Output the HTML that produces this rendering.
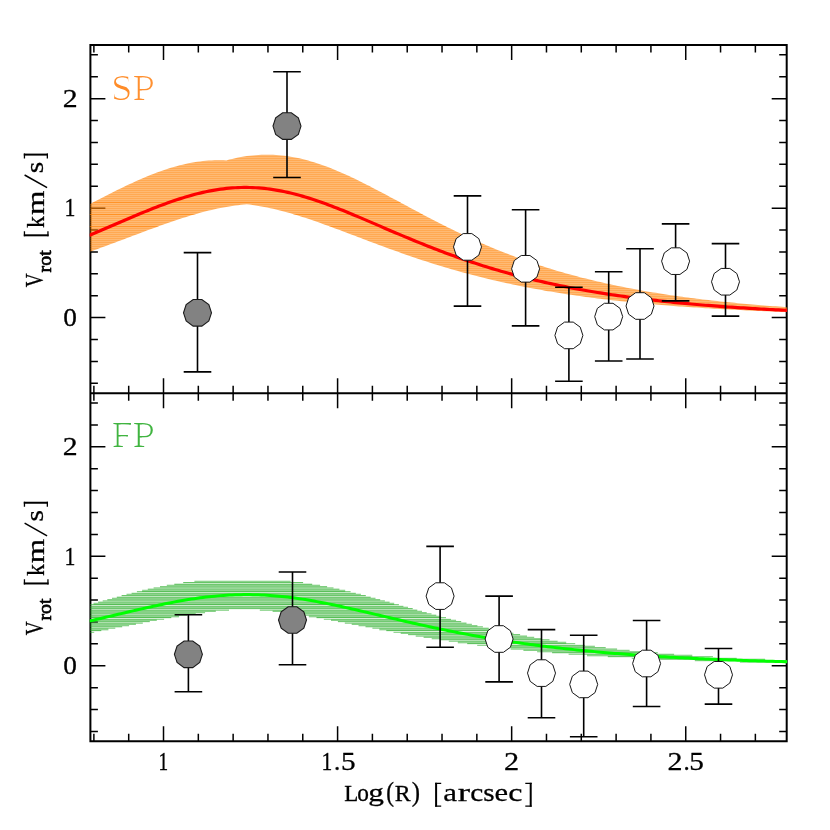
<!DOCTYPE html><html lang="en"><head><meta charset="utf-8"><title>Vrot</title><style>html,body{margin:0;padding:0;background:#fff}svg{display:block;will-change:transform}text{font-family:"Liberation Serif",serif}</style></head><body>
<svg width="830" height="830" viewBox="0 0 830 830">
<rect width="830" height="830" fill="#fff"/>
<defs>
<pattern id="ho" width="830" height="2" patternUnits="userSpaceOnUse" x="0" y="201.9"><rect y="0" width="830" height="1.02" fill="#ff8000" fill-opacity="0.69"/><rect y="1" width="830" height="1.02" fill="#ff8000" fill-opacity="0.52"/></pattern>
<pattern id="hg" width="830" height="4.35" patternUnits="userSpaceOnUse" x="0" y="591.9"><rect y="0.00" width="830" height="1.02" fill="#32b032" fill-opacity="0.18"/><rect y="1.00" width="830" height="1.20" fill="#32b032" fill-opacity="0.83"/><rect y="2.18" width="830" height="1.02" fill="#32b032" fill-opacity="0.52"/><rect y="3.18" width="830" height="1.19" fill="#32b032" fill-opacity="0.83"/></pattern>
<clipPath id="cband"><path d="M89.01,204.51 L91.93,202.99 L94.85,201.47 L97.77,199.96 L100.70,198.45 L103.62,196.95 L106.54,195.46 L109.46,193.98 L112.38,192.50 L115.31,191.04 L118.23,189.59 L121.15,188.16 L124.07,186.75 L127.00,185.35 L129.92,183.98 L132.84,182.63 L135.76,181.30 L138.68,179.99 L141.61,178.72 L144.53,177.47 L147.45,176.25 L150.37,175.07 L153.29,173.91 L156.22,172.80 L159.14,171.72 L162.06,170.68 L164.98,169.69 L167.90,168.73 L170.83,167.82 L173.75,166.95 L176.67,166.14 L179.59,165.36 L182.52,164.64 L185.44,163.97 L188.36,163.35 L191.28,162.79 L194.20,162.28 L197.13,161.82 L200.05,161.42 L202.97,161.08 L205.89,160.79 L208.81,160.56 L211.74,160.39 L214.66,160.28 L217.58,160.22 L220.50,160.23 L223.43,160.29 L226.35,160.38 L229.27,159.61 L232.19,158.89 L235.11,158.22 L238.04,157.61 L240.96,157.06 L243.88,156.56 L246.80,156.11 L249.72,155.73 L252.65,155.40 L255.57,155.14 L258.49,154.93 L261.41,154.79 L264.34,154.70 L267.26,154.68 L270.18,154.72 L273.10,154.81 L276.02,154.97 L278.95,155.19 L281.87,155.47 L284.79,155.81 L287.71,156.20 L290.63,156.66 L293.56,157.17 L296.48,157.74 L299.40,158.36 L302.32,159.04 L305.24,159.77 L308.17,160.55 L311.09,161.38 L314.01,162.26 L316.93,163.19 L319.86,164.17 L322.78,165.19 L325.70,166.25 L328.62,167.35 L331.54,168.50 L334.47,169.67 L337.39,170.89 L340.31,172.14 L343.23,173.42 L346.15,174.74 L349.08,176.08 L352.00,177.44 L354.92,178.84 L357.84,180.25 L360.77,181.69 L363.69,183.15 L366.61,184.63 L369.53,186.12 L372.45,187.63 L375.38,189.15 L378.30,190.68 L381.22,192.23 L384.14,193.78 L387.06,195.34 L389.99,196.90 L392.91,198.47 L395.83,200.04 L398.75,201.61 L401.68,203.19 L404.60,204.76 L407.52,206.33 L410.44,207.90 L413.36,209.47 L416.29,211.03 L419.21,212.58 L422.13,214.13 L425.05,215.67 L427.97,217.21 L430.90,218.73 L433.82,220.24 L436.74,221.75 L439.66,223.24 L442.59,224.72 L445.51,226.19 L448.43,227.65 L451.35,229.09 L454.27,230.52 L457.20,231.93 L460.12,233.33 L463.04,234.72 L465.96,236.09 L468.88,237.45 L471.81,238.79 L474.73,240.12 L477.65,241.42 L480.57,242.72 L483.49,244.00 L486.42,245.26 L489.34,246.50 L492.26,247.73 L495.18,248.94 L498.11,250.14 L501.03,251.31 L503.95,252.48 L506.87,253.62 L509.79,254.75 L512.72,255.86 L515.64,256.96 L518.56,258.04 L521.48,259.10 L524.40,260.15 L527.33,261.18 L530.25,262.20 L533.17,263.20 L536.09,264.18 L539.02,265.15 L541.94,266.10 L544.86,267.04 L547.78,267.96 L550.70,268.86 L553.63,269.75 L556.55,270.63 L559.47,271.49 L562.39,272.34 L565.31,273.17 L568.24,273.99 L571.16,274.80 L574.08,275.59 L577.00,276.37 L579.93,277.13 L582.85,277.88 L585.77,278.62 L588.69,279.35 L591.61,280.06 L594.54,280.76 L597.46,281.45 L600.38,282.12 L603.30,282.79 L606.22,283.44 L609.15,284.08 L612.07,284.71 L614.99,285.32 L617.91,285.93 L620.83,286.52 L623.76,287.11 L626.68,287.68 L629.60,288.25 L632.52,288.80 L635.45,289.34 L638.37,289.87 L641.29,290.40 L644.21,290.91 L647.13,291.42 L650.06,291.91 L652.98,292.40 L655.90,292.87 L658.82,293.34 L661.74,293.80 L664.67,294.25 L667.59,294.69 L670.51,295.13 L673.43,295.56 L676.36,295.97 L679.28,296.38 L682.20,296.79 L685.12,297.18 L688.04,297.57 L690.97,297.95 L693.89,298.32 L696.81,298.69 L699.73,299.05 L702.65,299.40 L705.58,299.75 L708.50,300.09 L711.42,300.42 L714.34,300.75 L717.27,301.07 L720.19,301.39 L723.11,301.70 L726.03,302.00 L728.95,302.30 L731.88,302.59 L734.80,302.87 L737.72,303.15 L740.64,303.43 L743.56,303.70 L746.49,303.97 L749.41,304.23 L752.33,304.48 L755.25,304.73 L758.18,304.98 L761.10,305.22 L764.02,305.46 L766.94,305.69 L769.86,305.91 L772.79,306.14 L775.71,306.36 L778.63,306.57 L781.55,306.78 L784.47,306.99 L787.40,307.19 L787.40,312.11 L784.47,312.00 L781.55,311.89 L778.63,311.78 L775.71,311.67 L772.79,311.55 L769.86,311.43 L766.94,311.31 L764.02,311.19 L761.10,311.07 L758.18,310.94 L755.25,310.81 L752.33,310.68 L749.41,310.54 L746.49,310.40 L743.56,310.26 L740.64,310.12 L737.72,309.97 L734.80,309.83 L731.88,309.67 L728.95,309.52 L726.03,309.36 L723.11,309.20 L720.19,309.04 L717.27,308.87 L714.34,308.70 L711.42,308.53 L708.50,308.35 L705.58,308.17 L702.65,307.99 L699.73,307.80 L696.81,307.61 L693.89,307.42 L690.97,307.22 L688.04,307.02 L685.12,306.81 L682.20,306.60 L679.28,306.39 L676.36,306.17 L673.43,305.95 L670.51,305.72 L667.59,305.49 L664.67,305.26 L661.74,305.02 L658.82,304.77 L655.90,304.52 L652.98,304.27 L650.06,304.01 L647.13,303.75 L644.21,303.48 L641.29,303.20 L638.37,302.93 L635.45,302.64 L632.52,302.35 L629.60,302.06 L626.68,301.76 L623.76,301.45 L620.83,301.14 L617.91,300.82 L614.99,300.50 L612.07,300.17 L609.15,299.83 L606.22,299.49 L603.30,299.14 L600.38,298.78 L597.46,298.42 L594.54,298.05 L591.61,297.68 L588.69,297.29 L585.77,296.90 L582.85,296.51 L579.93,296.10 L577.00,295.69 L574.08,295.27 L571.16,294.84 L568.24,294.41 L565.31,293.96 L562.39,293.51 L559.47,293.05 L556.55,292.59 L553.63,292.11 L550.70,291.62 L547.78,291.13 L544.86,290.63 L541.94,290.12 L539.02,289.60 L536.09,289.07 L533.17,288.53 L530.25,287.98 L527.33,287.42 L524.40,286.85 L521.48,286.28 L518.56,285.69 L515.64,285.09 L512.72,284.48 L509.79,283.87 L506.87,283.24 L503.95,282.60 L501.03,281.95 L498.11,281.29 L495.18,280.62 L492.26,279.93 L489.34,279.24 L486.42,278.54 L483.49,277.82 L480.57,277.09 L477.65,276.36 L474.73,275.61 L471.81,274.85 L468.88,274.07 L465.96,273.29 L463.04,272.49 L460.12,271.69 L457.20,270.87 L454.27,270.04 L451.35,269.19 L448.43,268.34 L445.51,267.47 L442.59,266.60 L439.66,265.71 L436.74,264.81 L433.82,263.89 L430.90,262.97 L427.97,262.04 L425.05,261.09 L422.13,260.14 L419.21,259.17 L416.29,258.19 L413.36,257.20 L410.44,256.21 L407.52,255.20 L404.60,254.18 L401.68,253.16 L398.75,252.12 L395.83,251.08 L392.91,250.03 L389.99,248.97 L387.06,247.90 L384.14,246.83 L381.22,245.75 L378.30,244.66 L375.38,243.57 L372.45,242.48 L369.53,241.38 L366.61,240.27 L363.69,239.17 L360.77,238.06 L357.84,236.95 L354.92,235.84 L352.00,234.73 L349.08,233.63 L346.15,232.52 L343.23,231.42 L340.31,230.32 L337.39,229.23 L334.47,228.14 L331.54,227.07 L328.62,225.99 L325.70,224.93 L322.78,223.88 L319.86,222.84 L316.93,221.82 L314.01,220.80 L311.09,219.81 L308.17,218.83 L305.24,217.86 L302.32,216.92 L299.40,216.00 L296.48,215.10 L293.56,214.22 L290.63,213.36 L287.71,212.53 L284.79,211.73 L281.87,210.95 L278.95,210.21 L276.02,209.49 L273.10,208.81 L270.18,208.16 L267.26,207.54 L264.34,206.95 L261.41,206.40 L258.49,205.89 L255.57,205.42 L252.65,204.98 L249.72,204.58 L246.80,204.30 L243.88,204.56 L240.96,204.85 L238.04,205.18 L235.11,205.56 L232.19,205.97 L229.27,206.42 L226.35,206.91 L223.43,207.44 L220.50,208.00 L217.58,208.60 L214.66,209.23 L211.74,209.89 L208.81,210.58 L205.89,211.31 L202.97,212.06 L200.05,212.84 L197.13,213.65 L194.20,214.49 L191.28,215.35 L188.36,216.23 L185.44,217.14 L182.52,218.07 L179.59,219.01 L176.67,219.98 L173.75,220.96 L170.83,221.95 L167.90,222.97 L164.98,223.99 L162.06,225.03 L159.14,226.08 L156.22,227.13 L153.29,228.20 L150.37,229.28 L147.45,230.36 L144.53,231.45 L141.61,232.54 L138.68,233.63 L135.76,234.73 L132.84,235.83 L129.92,236.93 L127.00,238.03 L124.07,239.13 L121.15,240.23 L118.23,241.33 L115.31,242.42 L112.38,243.51 L109.46,244.60 L106.54,245.68 L103.62,246.75 L100.70,247.82 L97.77,248.89 L94.85,249.94 L91.93,250.99 L89.01,252.03 Z"/></clipPath>
<clipPath id="ct"><rect x="89.7" y="45" width="697.6" height="348.15"/></clipPath>
<clipPath id="cb"><rect x="89.7" y="393.15" width="697.6" height="348.15"/></clipPath>
<clipPath id="ct2"><rect x="90.4" y="45" width="696.9" height="348.15"/></clipPath>
<clipPath id="cb2"><rect x="90.4" y="393.15" width="696.9" height="348.15"/></clipPath>
</defs>
<path d="M93.88,45.00v7.50 M93.88,385.65v15.00 M93.88,741.30v-7.50 M128.70,45.00v7.50 M128.70,385.65v15.00 M128.70,741.30v-7.50 M163.51,45.00v15.00 M163.51,378.15v30.00 M163.51,741.30v-15.00 M198.33,45.00v7.50 M198.33,385.65v15.00 M198.33,741.30v-7.50 M233.14,45.00v7.50 M233.14,385.65v15.00 M233.14,741.30v-7.50 M267.96,45.00v7.50 M267.96,385.65v15.00 M267.96,741.30v-7.50 M302.77,45.00v7.50 M302.77,385.65v15.00 M302.77,741.30v-7.50 M337.59,45.00v15.00 M337.59,378.15v30.00 M337.59,741.30v-15.00 M372.40,45.00v7.50 M372.40,385.65v15.00 M372.40,741.30v-7.50 M407.22,45.00v7.50 M407.22,385.65v15.00 M407.22,741.30v-7.50 M442.03,45.00v7.50 M442.03,385.65v15.00 M442.03,741.30v-7.50 M476.85,45.00v7.50 M476.85,385.65v15.00 M476.85,741.30v-7.50 M511.66,45.00v15.00 M511.66,378.15v30.00 M511.66,741.30v-15.00 M546.48,45.00v7.50 M546.48,385.65v15.00 M546.48,741.30v-7.50 M581.29,45.00v7.50 M581.29,385.65v15.00 M581.29,741.30v-7.50 M616.11,45.00v7.50 M616.11,385.65v15.00 M616.11,741.30v-7.50 M650.92,45.00v7.50 M650.92,385.65v15.00 M650.92,741.30v-7.50 M685.74,45.00v15.00 M685.74,378.15v30.00 M685.74,741.30v-15.00 M720.55,45.00v7.50 M720.55,385.65v15.00 M720.55,741.30v-7.50 M755.37,45.00v7.50 M755.37,385.65v15.00 M755.37,741.30v-7.50 M90.40,383.30h7.50 M786.70,383.30h-7.50 M90.40,361.40h7.50 M786.70,361.40h-7.50 M90.40,339.50h7.50 M786.70,339.50h-7.50 M90.40,317.61h15.00 M786.70,317.61h-15.00 M90.40,295.71h7.50 M786.70,295.71h-7.50 M90.40,273.82h7.50 M786.70,273.82h-7.50 M90.40,251.92h7.50 M786.70,251.92h-7.50 M90.40,230.02h7.50 M786.70,230.02h-7.50 M90.40,208.13h15.00 M786.70,208.13h-15.00 M90.40,186.23h7.50 M786.70,186.23h-7.50 M90.40,164.33h7.50 M786.70,164.33h-7.50 M90.40,142.44h7.50 M786.70,142.44h-7.50 M90.40,120.54h7.50 M786.70,120.54h-7.50 M90.40,98.65h15.00 M786.70,98.65h-15.00 M90.40,76.75h7.50 M786.70,76.75h-7.50 M90.40,54.85h7.50 M786.70,54.85h-7.50 M90.40,731.45h7.50 M786.70,731.45h-7.50 M90.40,709.55h7.50 M786.70,709.55h-7.50 M90.40,687.65h7.50 M786.70,687.65h-7.50 M90.40,665.76h15.00 M786.70,665.76h-15.00 M90.40,643.86h7.50 M786.70,643.86h-7.50 M90.40,621.97h7.50 M786.70,621.97h-7.50 M90.40,600.07h7.50 M786.70,600.07h-7.50 M90.40,578.17h7.50 M786.70,578.17h-7.50 M90.40,556.28h15.00 M786.70,556.28h-15.00 M90.40,534.38h7.50 M786.70,534.38h-7.50 M90.40,512.48h7.50 M786.70,512.48h-7.50 M90.40,490.59h7.50 M786.70,490.59h-7.50 M90.40,468.69h7.50 M786.70,468.69h-7.50 M90.40,446.80h15.00 M786.70,446.80h-15.00 M90.40,424.90h7.50 M786.70,424.90h-7.50 M90.40,403.00h7.50 M786.70,403.00h-7.50" stroke="#000" stroke-width="1.5" fill="none"/>
<path d="M90.40,45.00H786.70V741.30H90.40Z M90.40,393.15H786.70" stroke="#000" stroke-width="2" fill="none"/>
<g clip-path="url(#ct)"><path d="M89.01,204.51 L91.93,202.99 L94.85,201.47 L97.77,199.96 L100.70,198.45 L103.62,196.95 L106.54,195.46 L109.46,193.98 L112.38,192.50 L115.31,191.04 L118.23,189.59 L121.15,188.16 L124.07,186.75 L127.00,185.35 L129.92,183.98 L132.84,182.63 L135.76,181.30 L138.68,179.99 L141.61,178.72 L144.53,177.47 L147.45,176.25 L150.37,175.07 L153.29,173.91 L156.22,172.80 L159.14,171.72 L162.06,170.68 L164.98,169.69 L167.90,168.73 L170.83,167.82 L173.75,166.95 L176.67,166.14 L179.59,165.36 L182.52,164.64 L185.44,163.97 L188.36,163.35 L191.28,162.79 L194.20,162.28 L197.13,161.82 L200.05,161.42 L202.97,161.08 L205.89,160.79 L208.81,160.56 L211.74,160.39 L214.66,160.28 L217.58,160.22 L220.50,160.23 L223.43,160.29 L226.35,160.38 L229.27,159.61 L232.19,158.89 L235.11,158.22 L238.04,157.61 L240.96,157.06 L243.88,156.56 L246.80,156.11 L249.72,155.73 L252.65,155.40 L255.57,155.14 L258.49,154.93 L261.41,154.79 L264.34,154.70 L267.26,154.68 L270.18,154.72 L273.10,154.81 L276.02,154.97 L278.95,155.19 L281.87,155.47 L284.79,155.81 L287.71,156.20 L290.63,156.66 L293.56,157.17 L296.48,157.74 L299.40,158.36 L302.32,159.04 L305.24,159.77 L308.17,160.55 L311.09,161.38 L314.01,162.26 L316.93,163.19 L319.86,164.17 L322.78,165.19 L325.70,166.25 L328.62,167.35 L331.54,168.50 L334.47,169.67 L337.39,170.89 L340.31,172.14 L343.23,173.42 L346.15,174.74 L349.08,176.08 L352.00,177.44 L354.92,178.84 L357.84,180.25 L360.77,181.69 L363.69,183.15 L366.61,184.63 L369.53,186.12 L372.45,187.63 L375.38,189.15 L378.30,190.68 L381.22,192.23 L384.14,193.78 L387.06,195.34 L389.99,196.90 L392.91,198.47 L395.83,200.04 L398.75,201.61 L401.68,203.19 L404.60,204.76 L407.52,206.33 L410.44,207.90 L413.36,209.47 L416.29,211.03 L419.21,212.58 L422.13,214.13 L425.05,215.67 L427.97,217.21 L430.90,218.73 L433.82,220.24 L436.74,221.75 L439.66,223.24 L442.59,224.72 L445.51,226.19 L448.43,227.65 L451.35,229.09 L454.27,230.52 L457.20,231.93 L460.12,233.33 L463.04,234.72 L465.96,236.09 L468.88,237.45 L471.81,238.79 L474.73,240.12 L477.65,241.42 L480.57,242.72 L483.49,244.00 L486.42,245.26 L489.34,246.50 L492.26,247.73 L495.18,248.94 L498.11,250.14 L501.03,251.31 L503.95,252.48 L506.87,253.62 L509.79,254.75 L512.72,255.86 L515.64,256.96 L518.56,258.04 L521.48,259.10 L524.40,260.15 L527.33,261.18 L530.25,262.20 L533.17,263.20 L536.09,264.18 L539.02,265.15 L541.94,266.10 L544.86,267.04 L547.78,267.96 L550.70,268.86 L553.63,269.75 L556.55,270.63 L559.47,271.49 L562.39,272.34 L565.31,273.17 L568.24,273.99 L571.16,274.80 L574.08,275.59 L577.00,276.37 L579.93,277.13 L582.85,277.88 L585.77,278.62 L588.69,279.35 L591.61,280.06 L594.54,280.76 L597.46,281.45 L600.38,282.12 L603.30,282.79 L606.22,283.44 L609.15,284.08 L612.07,284.71 L614.99,285.32 L617.91,285.93 L620.83,286.52 L623.76,287.11 L626.68,287.68 L629.60,288.25 L632.52,288.80 L635.45,289.34 L638.37,289.87 L641.29,290.40 L644.21,290.91 L647.13,291.42 L650.06,291.91 L652.98,292.40 L655.90,292.87 L658.82,293.34 L661.74,293.80 L664.67,294.25 L667.59,294.69 L670.51,295.13 L673.43,295.56 L676.36,295.97 L679.28,296.38 L682.20,296.79 L685.12,297.18 L688.04,297.57 L690.97,297.95 L693.89,298.32 L696.81,298.69 L699.73,299.05 L702.65,299.40 L705.58,299.75 L708.50,300.09 L711.42,300.42 L714.34,300.75 L717.27,301.07 L720.19,301.39 L723.11,301.70 L726.03,302.00 L728.95,302.30 L731.88,302.59 L734.80,302.87 L737.72,303.15 L740.64,303.43 L743.56,303.70 L746.49,303.97 L749.41,304.23 L752.33,304.48 L755.25,304.73 L758.18,304.98 L761.10,305.22 L764.02,305.46 L766.94,305.69 L769.86,305.91 L772.79,306.14 L775.71,306.36 L778.63,306.57 L781.55,306.78 L784.47,306.99 L787.40,307.19 L787.40,312.11 L784.47,312.00 L781.55,311.89 L778.63,311.78 L775.71,311.67 L772.79,311.55 L769.86,311.43 L766.94,311.31 L764.02,311.19 L761.10,311.07 L758.18,310.94 L755.25,310.81 L752.33,310.68 L749.41,310.54 L746.49,310.40 L743.56,310.26 L740.64,310.12 L737.72,309.97 L734.80,309.83 L731.88,309.67 L728.95,309.52 L726.03,309.36 L723.11,309.20 L720.19,309.04 L717.27,308.87 L714.34,308.70 L711.42,308.53 L708.50,308.35 L705.58,308.17 L702.65,307.99 L699.73,307.80 L696.81,307.61 L693.89,307.42 L690.97,307.22 L688.04,307.02 L685.12,306.81 L682.20,306.60 L679.28,306.39 L676.36,306.17 L673.43,305.95 L670.51,305.72 L667.59,305.49 L664.67,305.26 L661.74,305.02 L658.82,304.77 L655.90,304.52 L652.98,304.27 L650.06,304.01 L647.13,303.75 L644.21,303.48 L641.29,303.20 L638.37,302.93 L635.45,302.64 L632.52,302.35 L629.60,302.06 L626.68,301.76 L623.76,301.45 L620.83,301.14 L617.91,300.82 L614.99,300.50 L612.07,300.17 L609.15,299.83 L606.22,299.49 L603.30,299.14 L600.38,298.78 L597.46,298.42 L594.54,298.05 L591.61,297.68 L588.69,297.29 L585.77,296.90 L582.85,296.51 L579.93,296.10 L577.00,295.69 L574.08,295.27 L571.16,294.84 L568.24,294.41 L565.31,293.96 L562.39,293.51 L559.47,293.05 L556.55,292.59 L553.63,292.11 L550.70,291.62 L547.78,291.13 L544.86,290.63 L541.94,290.12 L539.02,289.60 L536.09,289.07 L533.17,288.53 L530.25,287.98 L527.33,287.42 L524.40,286.85 L521.48,286.28 L518.56,285.69 L515.64,285.09 L512.72,284.48 L509.79,283.87 L506.87,283.24 L503.95,282.60 L501.03,281.95 L498.11,281.29 L495.18,280.62 L492.26,279.93 L489.34,279.24 L486.42,278.54 L483.49,277.82 L480.57,277.09 L477.65,276.36 L474.73,275.61 L471.81,274.85 L468.88,274.07 L465.96,273.29 L463.04,272.49 L460.12,271.69 L457.20,270.87 L454.27,270.04 L451.35,269.19 L448.43,268.34 L445.51,267.47 L442.59,266.60 L439.66,265.71 L436.74,264.81 L433.82,263.89 L430.90,262.97 L427.97,262.04 L425.05,261.09 L422.13,260.14 L419.21,259.17 L416.29,258.19 L413.36,257.20 L410.44,256.21 L407.52,255.20 L404.60,254.18 L401.68,253.16 L398.75,252.12 L395.83,251.08 L392.91,250.03 L389.99,248.97 L387.06,247.90 L384.14,246.83 L381.22,245.75 L378.30,244.66 L375.38,243.57 L372.45,242.48 L369.53,241.38 L366.61,240.27 L363.69,239.17 L360.77,238.06 L357.84,236.95 L354.92,235.84 L352.00,234.73 L349.08,233.63 L346.15,232.52 L343.23,231.42 L340.31,230.32 L337.39,229.23 L334.47,228.14 L331.54,227.07 L328.62,225.99 L325.70,224.93 L322.78,223.88 L319.86,222.84 L316.93,221.82 L314.01,220.80 L311.09,219.81 L308.17,218.83 L305.24,217.86 L302.32,216.92 L299.40,216.00 L296.48,215.10 L293.56,214.22 L290.63,213.36 L287.71,212.53 L284.79,211.73 L281.87,210.95 L278.95,210.21 L276.02,209.49 L273.10,208.81 L270.18,208.16 L267.26,207.54 L264.34,206.95 L261.41,206.40 L258.49,205.89 L255.57,205.42 L252.65,204.98 L249.72,204.58 L246.80,204.30 L243.88,204.56 L240.96,204.85 L238.04,205.18 L235.11,205.56 L232.19,205.97 L229.27,206.42 L226.35,206.91 L223.43,207.44 L220.50,208.00 L217.58,208.60 L214.66,209.23 L211.74,209.89 L208.81,210.58 L205.89,211.31 L202.97,212.06 L200.05,212.84 L197.13,213.65 L194.20,214.49 L191.28,215.35 L188.36,216.23 L185.44,217.14 L182.52,218.07 L179.59,219.01 L176.67,219.98 L173.75,220.96 L170.83,221.95 L167.90,222.97 L164.98,223.99 L162.06,225.03 L159.14,226.08 L156.22,227.13 L153.29,228.20 L150.37,229.28 L147.45,230.36 L144.53,231.45 L141.61,232.54 L138.68,233.63 L135.76,234.73 L132.84,235.83 L129.92,236.93 L127.00,238.03 L124.07,239.13 L121.15,240.23 L118.23,241.33 L115.31,242.42 L112.38,243.51 L109.46,244.60 L106.54,245.68 L103.62,246.75 L100.70,247.82 L97.77,248.89 L94.85,249.94 L91.93,250.99 L89.01,252.03 Z" fill="url(#ho)" clip-path="url(#ct2)"/><g clip-path="url(#cband)"><path d="M80,202.4H800M80,214.5H800M80,226.6H800" stroke="#ff8000" stroke-width="1" stroke-opacity="0.55"/></g><path d="M89.01,235.46 L91.93,234.23 L94.85,232.99 L97.77,231.74 L100.70,230.49 L103.62,229.24 L106.54,227.98 L109.46,226.73 L112.38,225.47 L115.31,224.21 L118.23,222.95 L121.15,221.70 L124.07,220.45 L127.00,219.20 L129.92,217.96 L132.84,216.72 L135.76,215.49 L138.68,214.28 L141.61,213.07 L144.53,211.87 L147.45,210.68 L150.37,209.51 L153.29,208.36 L156.22,207.22 L159.14,206.09 L162.06,204.99 L164.98,203.91 L167.90,202.85 L170.83,201.82 L173.75,200.81 L176.67,199.83 L179.59,198.87 L182.52,197.94 L185.44,197.05 L188.36,196.19 L191.28,195.36 L194.20,194.56 L197.13,193.81 L200.05,193.09 L202.97,192.40 L205.89,191.76 L208.81,191.16 L211.74,190.60 L214.66,190.09 L217.58,189.61 L220.50,189.18 L223.43,188.80 L226.35,188.46 L229.27,188.18 L232.19,187.93 L235.11,187.74 L238.04,187.59 L240.96,187.49 L243.88,187.44 L246.80,187.44 L249.72,187.49 L252.65,187.58 L255.57,187.73 L258.49,187.92 L261.41,188.16 L264.34,188.45 L267.26,188.78 L270.18,189.16 L273.10,189.58 L276.02,190.05 L278.95,190.57 L281.87,191.13 L284.79,191.72 L287.71,192.36 L290.63,193.04 L293.56,193.76 L296.48,194.52 L299.40,195.31 L302.32,196.14 L305.24,197.00 L308.17,197.89 L311.09,198.81 L314.01,199.77 L316.93,200.75 L319.86,201.76 L322.78,202.79 L325.70,203.85 L328.62,204.93 L331.54,206.03 L334.47,207.15 L337.39,208.28 L340.31,209.44 L343.23,210.61 L346.15,211.79 L349.08,212.99 L352.00,214.20 L354.92,215.42 L357.84,216.65 L360.77,217.88 L363.69,219.12 L366.61,220.37 L369.53,221.62 L372.45,222.88 L375.38,224.13 L378.30,225.39 L381.22,226.65 L384.14,227.91 L387.06,229.16 L389.99,230.41 L392.91,231.66 L395.83,232.91 L398.75,234.15 L401.68,235.38 L404.60,236.61 L407.52,237.83 L410.44,239.05 L413.36,240.26 L416.29,241.45 L419.21,242.64 L422.13,243.82 L425.05,244.99 L427.97,246.15 L430.90,247.30 L433.82,248.44 L436.74,249.57 L439.66,250.68 L442.59,251.78 L445.51,252.88 L448.43,253.96 L451.35,255.02 L454.27,256.08 L457.20,257.12 L460.12,258.15 L463.04,259.16 L465.96,260.17 L468.88,261.15 L471.81,262.13 L474.73,263.09 L477.65,264.04 L480.57,264.98 L483.49,265.91 L486.42,266.82 L489.34,267.71 L492.26,268.60 L495.18,269.47 L498.11,270.33 L501.03,271.17 L503.95,272.00 L506.87,272.82 L509.79,273.63 L512.72,274.42 L515.64,275.20 L518.56,275.97 L521.48,276.73 L524.40,277.47 L527.33,278.20 L530.25,278.92 L533.17,279.63 L536.09,280.33 L539.02,281.01 L541.94,281.68 L544.86,282.35 L547.78,283.00 L550.70,283.64 L553.63,284.26 L556.55,284.88 L559.47,285.49 L562.39,286.09 L565.31,286.67 L568.24,287.25 L571.16,287.81 L574.08,288.37 L577.00,288.91 L579.93,289.45 L582.85,289.98 L585.77,290.49 L588.69,291.00 L591.61,291.50 L594.54,291.99 L597.46,292.47 L600.38,292.94 L603.30,293.41 L606.22,293.86 L609.15,294.31 L612.07,294.75 L614.99,295.18 L617.91,295.60 L620.83,296.02 L623.76,296.43 L626.68,296.83 L629.60,297.22 L632.52,297.60 L635.45,297.98 L638.37,298.35 L641.29,298.72 L644.21,299.08 L647.13,299.43 L650.06,299.77 L652.98,300.11 L655.90,300.44 L658.82,300.77 L661.74,301.09 L664.67,301.40 L667.59,301.71 L670.51,302.01 L673.43,302.31 L676.36,302.60 L679.28,302.88 L682.20,303.16 L685.12,303.44 L688.04,303.71 L690.97,303.97 L693.89,304.23 L696.81,304.49 L699.73,304.74 L702.65,304.98 L705.58,305.22 L708.50,305.46 L711.42,305.69 L714.34,305.92 L717.27,306.14 L720.19,306.36 L723.11,306.57 L726.03,306.78 L728.95,306.99 L731.88,307.19 L734.80,307.39 L737.72,307.59 L740.64,307.78 L743.56,307.97 L746.49,308.15 L749.41,308.33 L752.33,308.51 L755.25,308.68 L758.18,308.85 L761.10,309.02 L764.02,309.18 L766.94,309.34 L769.86,309.50 L772.79,309.66 L775.71,309.81 L778.63,309.96 L781.55,310.10 L784.47,310.25 L787.40,310.39" stroke="#ff0000" stroke-width="3.2" fill="none"/></g>
<g clip-path="url(#cb)"><path d="M194.4,580.75H290.7V582.07H194.4ZM183.2,582.05H303.1V583.37H183.2ZM174.3,583.35H312.2V584.67H174.3ZM166.8,584.65H320.1V585.97H166.8ZM160.0,585.95H327.1V587.27H160.0ZM153.6,587.25H333.5V588.57H153.6ZM147.8,588.55H339.4V589.87H147.8ZM142.1,589.85H345.2V591.17H142.1ZM136.9,591.15H350.6V592.47H136.9ZM131.6,592.45H355.8V593.77H131.6ZM126.5,593.75H360.9V595.07H126.5ZM121.6,595.05H365.8V596.37H121.6ZM116.8,596.35H370.7V597.67H116.8ZM112.0,597.65H375.5V598.97H112.0ZM107.3,598.95H380.2V600.27H107.3ZM102.7,600.25H384.9V601.57H102.7ZM98.1,601.55H389.6V602.87H98.1ZM93.5,602.85H394.2V604.17H93.5ZM88.9,604.15H398.9V605.47H88.9ZM86.9,605.45H403.4V606.77H86.9ZM86.9,606.75H408.0V608.07H86.9ZM86.9,608.05H412.7V609.37H86.9ZM86.9,609.35H229.0V610.67H86.9ZM259.8,609.35H417.3V610.67H259.8ZM86.9,610.65H215.8V611.97H86.9ZM272.6,610.65H422.0V611.97H272.6ZM86.9,611.95H205.1V613.27H86.9ZM283.2,611.95H426.7V613.27H283.2ZM86.9,613.25H195.7V614.57H86.9ZM292.4,613.25H431.5V614.57H292.4ZM86.9,614.55H187.0V615.87H86.9ZM300.9,614.55H436.3V615.87H300.9ZM86.9,615.85H179.1V617.17H86.9ZM308.8,615.85H441.1V617.17H308.8ZM86.9,617.15H171.3V618.47H86.9ZM316.5,617.15H446.0V618.47H316.5ZM86.9,618.45H164.1V619.77H86.9ZM323.8,618.45H451.0V619.77H323.8ZM86.9,619.75H156.8V621.07H86.9ZM331.0,619.75H456.1V621.07H331.0ZM86.9,621.05H149.8V622.37H86.9ZM337.9,621.05H461.2V622.37H337.9ZM86.9,622.35H142.8V623.67H86.9ZM344.8,622.35H466.5V623.67H344.8ZM86.9,623.65H135.9V624.97H86.9ZM351.7,623.65H471.9V624.97H351.7ZM86.9,624.95H129.1V626.27H86.9ZM358.5,624.95H477.4V626.27H358.5ZM86.9,626.25H122.2V627.57H86.9ZM365.5,626.25H482.9V627.57H365.5ZM86.9,627.55H115.3V628.87H86.9ZM372.4,627.55H488.7V628.87H372.4ZM86.9,628.85H108.4V630.17H86.9ZM379.3,628.85H494.6V630.17H379.3ZM86.9,630.15H101.3V631.47H86.9ZM386.3,630.15H500.7V631.47H386.3ZM86.9,631.45H94.2V632.77H86.9ZM393.5,631.45H507.0V632.77H393.5ZM400.7,632.75H513.4V634.07H400.7ZM408.1,634.05H520.1V635.37H408.1ZM415.7,635.35H527.0V636.67H415.7ZM423.6,636.65H534.2V637.97H423.6ZM431.7,637.95H541.7V639.27H431.7ZM440.1,639.25H549.5V640.57H440.1ZM448.8,640.55H557.6V641.87H448.8ZM457.8,641.85H566.2V643.17H457.8ZM467.2,643.15H575.2V644.47H467.2ZM477.2,644.45H584.8V645.77H477.2ZM487.7,645.75H594.9V647.07H487.7ZM498.7,647.05H605.7V648.37H498.7ZM510.7,648.35H617.1V649.67H510.7ZM523.4,649.65H629.6V650.97H523.4ZM537.1,650.95H643.1V652.27H537.1ZM552.1,652.25H657.8V653.57H552.1ZM568.6,653.55H674.1V654.87H568.6ZM587.0,654.85H692.3V656.17H587.0ZM607.8,656.15H712.9V657.47H607.8ZM631.7,657.45H736.7V658.77H631.7ZM660.1,658.75H765.0V660.07H660.1ZM694.8,660.05H790.2V661.37H694.8ZM739.9,661.35H790.2V662.67H739.9Z" fill="url(#hg)" clip-path="url(#cb2)"/><path d="M89.01,621.13 L91.93,620.46 L94.85,619.78 L97.77,619.10 L100.70,618.42 L103.62,617.74 L106.54,617.05 L109.46,616.36 L112.38,615.68 L115.31,614.99 L118.23,614.30 L121.15,613.61 L124.07,612.93 L127.00,612.24 L129.92,611.56 L132.84,610.89 L135.76,610.21 L138.68,609.54 L141.61,608.88 L144.53,608.22 L147.45,607.57 L150.37,606.93 L153.29,606.29 L156.22,605.66 L159.14,605.05 L162.06,604.44 L164.98,603.84 L167.90,603.26 L170.83,602.69 L173.75,602.13 L176.67,601.58 L179.59,601.06 L182.52,600.54 L185.44,600.05 L188.36,599.57 L191.28,599.10 L194.20,598.66 L197.13,598.24 L200.05,597.83 L202.97,597.45 L205.89,597.09 L208.81,596.75 L211.74,596.44 L214.66,596.14 L217.58,595.88 L220.50,595.63 L223.43,595.41 L226.35,595.21 L229.27,595.04 L232.19,594.90 L235.11,594.78 L238.04,594.69 L240.96,594.63 L243.88,594.59 L246.80,594.57 L249.72,594.59 L252.65,594.63 L255.57,594.70 L258.49,594.79 L261.41,594.91 L264.34,595.05 L267.26,595.23 L270.18,595.42 L273.10,595.64 L276.02,595.89 L278.95,596.16 L281.87,596.45 L284.79,596.77 L287.71,597.11 L290.63,597.47 L293.56,597.86 L296.48,598.26 L299.40,598.69 L302.32,599.13 L305.24,599.59 L308.17,600.07 L311.09,600.57 L314.01,601.08 L316.93,601.61 L319.86,602.16 L322.78,602.72 L325.70,603.29 L328.62,603.88 L331.54,604.47 L334.47,605.08 L337.39,605.70 L340.31,606.33 L343.23,606.96 L346.15,607.61 L349.08,608.26 L352.00,608.92 L354.92,609.58 L357.84,610.25 L360.77,610.93 L363.69,611.60 L366.61,612.28 L369.53,612.97 L372.45,613.65 L375.38,614.34 L378.30,615.03 L381.22,615.71 L384.14,616.40 L387.06,617.09 L389.99,617.77 L392.91,618.46 L395.83,619.14 L398.75,619.82 L401.68,620.50 L404.60,621.17 L407.52,621.84 L410.44,622.51 L413.36,623.17 L416.29,623.83 L419.21,624.48 L422.13,625.13 L425.05,625.77 L427.97,626.40 L430.90,627.03 L433.82,627.66 L436.74,628.28 L439.66,628.89 L442.59,629.50 L445.51,630.10 L448.43,630.69 L451.35,631.28 L454.27,631.86 L457.20,632.43 L460.12,632.99 L463.04,633.55 L465.96,634.10 L468.88,634.65 L471.81,635.19 L474.73,635.72 L477.65,636.24 L480.57,636.75 L483.49,637.26 L486.42,637.76 L489.34,638.26 L492.26,638.74 L495.18,639.22 L498.11,639.70 L501.03,640.16 L503.95,640.62 L506.87,641.07 L509.79,641.51 L512.72,641.95 L515.64,642.38 L518.56,642.80 L521.48,643.22 L524.40,643.63 L527.33,644.03 L530.25,644.43 L533.17,644.82 L536.09,645.20 L539.02,645.58 L541.94,645.95 L544.86,646.32 L547.78,646.68 L550.70,647.03 L553.63,647.37 L556.55,647.71 L559.47,648.05 L562.39,648.38 L565.31,648.70 L568.24,649.02 L571.16,649.33 L574.08,649.63 L577.00,649.94 L579.93,650.23 L582.85,650.52 L585.77,650.81 L588.69,651.09 L591.61,651.36 L594.54,651.63 L597.46,651.90 L600.38,652.16 L603.30,652.41 L606.22,652.66 L609.15,652.91 L612.07,653.15 L614.99,653.39 L617.91,653.62 L620.83,653.85 L623.76,654.08 L626.68,654.30 L629.60,654.51 L632.52,654.73 L635.45,654.94 L638.37,655.14 L641.29,655.34 L644.21,655.54 L647.13,655.73 L650.06,655.92 L652.98,656.11 L655.90,656.29 L658.82,656.47 L661.74,656.65 L664.67,656.82 L667.59,656.99 L670.51,657.16 L673.43,657.32 L676.36,657.48 L679.28,657.64 L682.20,657.79 L685.12,657.94 L688.04,658.09 L690.97,658.24 L693.89,658.38 L696.81,658.52 L699.73,658.66 L702.65,658.80 L705.58,658.93 L708.50,659.06 L711.42,659.19 L714.34,659.31 L717.27,659.43 L720.19,659.55 L723.11,659.67 L726.03,659.79 L728.95,659.90 L731.88,660.01 L734.80,660.12 L737.72,660.23 L740.64,660.34 L743.56,660.44 L746.49,660.54 L749.41,660.64 L752.33,660.74 L755.25,660.84 L758.18,660.93 L761.10,661.02 L764.02,661.11 L766.94,661.20 L769.86,661.29 L772.79,661.37 L775.71,661.46 L778.63,661.54 L781.55,661.62 L784.47,661.70 L787.40,661.78" stroke="#00ff00" stroke-width="3.0" fill="none"/></g>
<path d="M197.50,252.65V371.90 M183.70,252.65H211.30 M183.70,371.90H211.30" stroke="#000" stroke-width="1.6" fill="none"/>
<path d="M287.00,71.80V177.55 M273.20,71.80H300.80 M273.20,177.55H300.80" stroke="#000" stroke-width="1.6" fill="none"/>
<path d="M467.50,195.90V306.10 M453.70,195.90H481.30 M453.70,306.10H481.30" stroke="#000" stroke-width="1.6" fill="none"/>
<path d="M525.60,209.70V325.90 M511.80,209.70H539.40 M511.80,325.90H539.40" stroke="#000" stroke-width="1.6" fill="none"/>
<path d="M568.90,287.20V381.20 M555.10,287.20H582.70 M555.10,381.20H582.70" stroke="#000" stroke-width="1.6" fill="none"/>
<path d="M608.70,271.80V361.00 M594.90,271.80H622.50 M594.90,361.00H622.50" stroke="#000" stroke-width="1.6" fill="none"/>
<path d="M640.00,248.70V359.00 M626.20,248.70H653.80 M626.20,359.00H653.80" stroke="#000" stroke-width="1.6" fill="none"/>
<path d="M675.60,223.90V300.90 M661.80,223.90H689.40 M661.80,300.90H689.40" stroke="#000" stroke-width="1.6" fill="none"/>
<path d="M725.50,243.60V316.10 M711.70,243.60H739.30 M711.70,316.10H739.30" stroke="#000" stroke-width="1.6" fill="none"/>
<polygon points="211.50,312.80 208.83,304.57 201.83,299.49 193.17,299.49 186.17,304.57 183.50,312.80 186.17,321.03 193.17,326.11 201.83,326.11 208.83,321.03" fill="#828282" stroke="#1a1a1a" stroke-width="1.1"/>
<polygon points="301.00,126.10 298.33,117.87 291.33,112.79 282.67,112.79 275.67,117.87 273.00,126.10 275.67,134.33 282.67,139.41 291.33,139.41 298.33,134.33" fill="#828282" stroke="#1a1a1a" stroke-width="1.1"/>
<polygon points="481.50,246.90 478.83,238.67 471.83,233.59 463.17,233.59 456.17,238.67 453.50,246.90 456.17,255.13 463.17,260.21 471.83,260.21 478.83,255.13" fill="#fff" stroke="#161616" stroke-width="1.0"/>
<polygon points="539.60,268.80 536.93,260.57 529.93,255.49 521.27,255.49 514.27,260.57 511.60,268.80 514.27,277.03 521.27,282.11 529.93,282.11 536.93,277.03" fill="#fff" stroke="#161616" stroke-width="1.0"/>
<polygon points="582.90,335.40 580.23,327.17 573.23,322.09 564.57,322.09 557.57,327.17 554.90,335.40 557.57,343.63 564.57,348.71 573.23,348.71 580.23,343.63" fill="#fff" stroke="#161616" stroke-width="1.0"/>
<polygon points="622.70,316.60 620.03,308.37 613.03,303.29 604.37,303.29 597.37,308.37 594.70,316.60 597.37,324.83 604.37,329.91 613.03,329.91 620.03,324.83" fill="#fff" stroke="#161616" stroke-width="1.0"/>
<polygon points="654.00,306.00 651.33,297.77 644.33,292.69 635.67,292.69 628.67,297.77 626.00,306.00 628.67,314.23 635.67,319.31 644.33,319.31 651.33,314.23" fill="#fff" stroke="#161616" stroke-width="1.0"/>
<polygon points="689.60,261.15 686.93,252.92 679.93,247.84 671.27,247.84 664.27,252.92 661.60,261.15 664.27,269.38 671.27,274.46 679.93,274.46 686.93,269.38" fill="#fff" stroke="#161616" stroke-width="1.0"/>
<polygon points="739.50,281.75 736.83,273.52 729.83,268.44 721.17,268.44 714.17,273.52 711.50,281.75 714.17,289.98 721.17,295.06 729.83,295.06 736.83,289.98" fill="#fff" stroke="#161616" stroke-width="1.0"/>
<path d="M188.40,614.70V691.80 M174.60,614.70H202.20 M174.60,691.80H202.20" stroke="#000" stroke-width="1.6" fill="none"/>
<path d="M292.50,572.00V664.70 M278.70,572.00H306.30 M278.70,664.70H306.30" stroke="#000" stroke-width="1.6" fill="none"/>
<path d="M440.10,546.40V647.20 M426.30,546.40H453.90 M426.30,647.20H453.90" stroke="#000" stroke-width="1.6" fill="none"/>
<path d="M499.10,596.10V681.90 M485.30,596.10H512.90 M485.30,681.90H512.90" stroke="#000" stroke-width="1.6" fill="none"/>
<path d="M541.50,629.60V717.80 M527.70,629.60H555.30 M527.70,717.80H555.30" stroke="#000" stroke-width="1.6" fill="none"/>
<path d="M583.70,635.20V736.70 M569.90,635.20H597.50 M569.90,736.70H597.50" stroke="#000" stroke-width="1.6" fill="none"/>
<path d="M646.60,620.50V706.50 M632.80,620.50H660.40 M632.80,706.50H660.40" stroke="#000" stroke-width="1.6" fill="none"/>
<path d="M718.50,648.50V704.10 M704.70,648.50H732.30 M704.70,704.10H732.30" stroke="#000" stroke-width="1.6" fill="none"/>
<polygon points="202.40,654.30 199.73,646.07 192.73,640.99 184.07,640.99 177.07,646.07 174.40,654.30 177.07,662.53 184.07,667.61 192.73,667.61 199.73,662.53" fill="#828282" stroke="#1a1a1a" stroke-width="1.1"/>
<polygon points="306.50,620.00 303.83,611.77 296.83,606.69 288.17,606.69 281.17,611.77 278.50,620.00 281.17,628.23 288.17,633.31 296.83,633.31 303.83,628.23" fill="#828282" stroke="#1a1a1a" stroke-width="1.1"/>
<polygon points="454.10,596.10 451.43,587.87 444.43,582.79 435.77,582.79 428.77,587.87 426.10,596.10 428.77,604.33 435.77,609.41 444.43,609.41 451.43,604.33" fill="#fff" stroke="#161616" stroke-width="1.0"/>
<polygon points="513.10,639.00 510.43,630.77 503.43,625.69 494.77,625.69 487.77,630.77 485.10,639.00 487.77,647.23 494.77,652.31 503.43,652.31 510.43,647.23" fill="#fff" stroke="#161616" stroke-width="1.0"/>
<polygon points="555.50,673.10 552.83,664.87 545.83,659.79 537.17,659.79 530.17,664.87 527.50,673.10 530.17,681.33 537.17,686.41 545.83,686.41 552.83,681.33" fill="#fff" stroke="#161616" stroke-width="1.0"/>
<polygon points="597.70,684.40 595.03,676.17 588.03,671.09 579.37,671.09 572.37,676.17 569.70,684.40 572.37,692.63 579.37,697.71 588.03,697.71 595.03,692.63" fill="#fff" stroke="#161616" stroke-width="1.0"/>
<polygon points="660.60,663.50 657.93,655.27 650.93,650.19 642.27,650.19 635.27,655.27 632.60,663.50 635.27,671.73 642.27,676.81 650.93,676.81 657.93,671.73" fill="#fff" stroke="#161616" stroke-width="1.0"/>
<polygon points="732.50,674.80 729.83,666.57 722.83,661.49 714.17,661.49 707.17,666.57 704.50,674.80 707.17,683.03 714.17,688.11 722.83,688.11 729.83,683.03" fill="#fff" stroke="#161616" stroke-width="1.0"/>
<text transform="matrix(0.1929 0 0 0.2455 158.51 770.30)" font-size="100" style="font-family:'Liberation Serif',serif" fill="#000" stroke="#000" stroke-width="1.38" stroke-linejoin="round">1</text>
<text transform="matrix(0.2156 0 0 0.2455 321.41 770.30)" font-size="100" style="font-family:'Liberation Serif',serif" fill="#000" stroke="#000" stroke-width="1.30" stroke-linejoin="round">1</text>
<text transform="matrix(0.2500 0 0 0.2553 333.98 769.92)" font-size="100" style="font-family:'Liberation Serif',serif" fill="#000" stroke="#000" stroke-width="1.19" stroke-linejoin="round">.</text>
<text transform="matrix(0.2932 0 0 0.2455 340.91 770.18)" font-size="100" style="font-family:'Liberation Serif',serif" fill="#000" stroke="#000" stroke-width="1.12" stroke-linejoin="round">5</text>
<text transform="matrix(0.3031 0 0 0.2455 504.11 770.36)" font-size="100" style="font-family:'Liberation Serif',serif" fill="#000" stroke="#000" stroke-width="1.10" stroke-linejoin="round">2</text>
<text transform="matrix(0.3006 0 0 0.2455 667.62 770.36)" font-size="100" style="font-family:'Liberation Serif',serif" fill="#000" stroke="#000" stroke-width="1.10" stroke-linejoin="round">2</text>
<text transform="matrix(0.2500 0 0 0.2553 683.38 769.92)" font-size="100" style="font-family:'Liberation Serif',serif" fill="#000" stroke="#000" stroke-width="1.19" stroke-linejoin="round">.</text>
<text transform="matrix(0.2932 0 0 0.2455 689.21 770.18)" font-size="100" style="font-family:'Liberation Serif',serif" fill="#000" stroke="#000" stroke-width="1.12" stroke-linejoin="round">5</text>
<text transform="matrix(0.2729 0 0 0.2467 63.18 325.91)" font-size="100" style="font-family:'Liberation Serif',serif" fill="#000" stroke="#000" stroke-width="1.16" stroke-linejoin="round">0</text>
<text transform="matrix(0.2184 0 0 0.2485 64.39 216.43)" font-size="100" style="font-family:'Liberation Serif',serif" fill="#000" stroke="#000" stroke-width="1.29" stroke-linejoin="round">1</text>
<text transform="matrix(0.2981 0 0 0.2475 62.63 106.95)" font-size="100" style="font-family:'Liberation Serif',serif" fill="#000" stroke="#000" stroke-width="1.10" stroke-linejoin="round">2</text>
<text transform="matrix(0.2729 0 0 0.2467 63.18 674.06)" font-size="100" style="font-family:'Liberation Serif',serif" fill="#000" stroke="#000" stroke-width="1.16" stroke-linejoin="round">0</text>
<text transform="matrix(0.2184 0 0 0.2485 64.39 564.58)" font-size="100" style="font-family:'Liberation Serif',serif" fill="#000" stroke="#000" stroke-width="1.29" stroke-linejoin="round">1</text>
<text transform="matrix(0.2981 0 0 0.2475 62.63 455.10)" font-size="100" style="font-family:'Liberation Serif',serif" fill="#000" stroke="#000" stroke-width="1.10" stroke-linejoin="round">2</text>
<text transform="matrix(0.2297 0 0 0.2336 344.27 800.70)" font-size="100" style="font-family:'Liberation Serif',serif" fill="#000" stroke="#000" stroke-width="1.30" stroke-linejoin="round">L</text>
<text transform="matrix(0.2329 0 0 0.2583 357.33 800.64)" font-size="100" style="font-family:'Liberation Serif',serif" fill="#000" stroke="#000" stroke-width="1.22" stroke-linejoin="round">o</text>
<text transform="matrix(0.3131 0 0 0.2515 368.37 801.39)" font-size="100" style="font-family:'Liberation Serif',serif" fill="#000" stroke="#000" stroke-width="1.07" stroke-linejoin="round">g</text>
<text transform="matrix(0.2330 0 0 0.2689 386.21 801.09)" font-size="100" style="font-family:'Liberation Serif',serif" fill="#000" stroke="#000" stroke-width="1.20" stroke-linejoin="round">(</text>
<text transform="matrix(0.2384 0 0 0.2336 394.64 800.70)" font-size="100" style="font-family:'Liberation Serif',serif" fill="#000" stroke="#000" stroke-width="1.27" stroke-linejoin="round">R</text>
<text transform="matrix(0.2485 0 0 0.2689 411.79 801.09)" font-size="100" style="font-family:'Liberation Serif',serif" fill="#000" stroke="#000" stroke-width="1.16" stroke-linejoin="round">)</text>
<text transform="matrix(0.3089 0 0 0.2583 443.22 800.64)" font-size="100" style="font-family:'Liberation Serif',serif" fill="#000" stroke="#000" stroke-width="1.06" stroke-linejoin="round">a</text>
<text transform="matrix(0.3705 0 0 0.2596 457.76 800.70)" font-size="100" style="font-family:'Liberation Serif',serif" fill="#000" stroke="#000" stroke-width="0.97" stroke-linejoin="round">r</text>
<text transform="matrix(0.2933 0 0 0.2583 470.30 800.64)" font-size="100" style="font-family:'Liberation Serif',serif" fill="#000" stroke="#000" stroke-width="1.09" stroke-linejoin="round">c</text>
<text transform="matrix(0.2912 0 0 0.2583 483.14 800.64)" font-size="100" style="font-family:'Liberation Serif',serif" fill="#000" stroke="#000" stroke-width="1.09" stroke-linejoin="round">s</text>
<text transform="matrix(0.3054 0 0 0.2583 494.38 800.64)" font-size="100" style="font-family:'Liberation Serif',serif" fill="#000" stroke="#000" stroke-width="1.07" stroke-linejoin="round">e</text>
<text transform="matrix(0.3200 0 0 0.2583 508.30 800.64)" font-size="100" style="font-family:'Liberation Serif',serif" fill="#000" stroke="#000" stroke-width="1.04" stroke-linejoin="round">c</text>
<path d="M436.10,782.80V806.70" stroke="#000" stroke-width="2.00" fill="none"/><path d="M435.10,783.45H441.20 M435.10,806.05H441.20" stroke="#000" stroke-width="1.30" fill="none"/>
<path d="M530.70,782.80V806.70" stroke="#000" stroke-width="2.00" fill="none"/><path d="M525.30,783.45H531.70 M525.30,806.05H531.70" stroke="#000" stroke-width="1.30" fill="none"/>
<g transform="translate(43.5,287.00) rotate(-90)"><text transform="matrix(0.1929 0 0 0.2507 -0.19 -0.08)" font-size="100" style="font-family:'Liberation Serif',serif" fill="#000" stroke="#000" stroke-width="1.36" stroke-linejoin="round">V</text><text transform="matrix(0.2375 0 0 0.2446 59.12 0.00)" font-size="100" style="font-family:'Liberation Serif',serif" fill="#000" stroke="#000" stroke-width="1.24" stroke-linejoin="round">k</text><text transform="matrix(0.3138 0 0 0.2574 71.97 0.00)" font-size="100" style="font-family:'Liberation Serif',serif" fill="#000" stroke="#000" stroke-width="1.06" stroke-linejoin="round">m</text><text transform="matrix(0.2944 0 0 0.2604 113.72 -0.06)" font-size="100" style="font-family:'Liberation Serif',serif" fill="#000" stroke="#000" stroke-width="1.08" stroke-linejoin="round">s</text><text transform="matrix(0.1991 0 0 0.1913 14.60 7.41)" font-size="100" style="font-family:'Liberation Serif',serif" fill="#000" stroke="#000" stroke-width="3.59" stroke-linejoin="round">rot</text><path d="M99.3,3.6L112.0,-18.9" stroke="#000" stroke-width="1.5" fill="none"/><path d="M51.70,-19.70V5.10" stroke="#000" stroke-width="2.00" fill="none"/><path d="M50.70,-19.05H55.80 M50.70,4.45H55.80" stroke="#000" stroke-width="1.30" fill="none"/><path d="M132.40,-19.70V4.50" stroke="#000" stroke-width="2.00" fill="none"/><path d="M128.50,-19.05H133.40 M128.50,3.85H133.40" stroke="#000" stroke-width="1.30" fill="none"/></g>
<g transform="translate(43.5,635.15) rotate(-90)"><text transform="matrix(0.1929 0 0 0.2507 -0.19 -0.08)" font-size="100" style="font-family:'Liberation Serif',serif" fill="#000" stroke="#000" stroke-width="1.36" stroke-linejoin="round">V</text><text transform="matrix(0.2375 0 0 0.2446 59.12 0.00)" font-size="100" style="font-family:'Liberation Serif',serif" fill="#000" stroke="#000" stroke-width="1.24" stroke-linejoin="round">k</text><text transform="matrix(0.3138 0 0 0.2574 71.97 0.00)" font-size="100" style="font-family:'Liberation Serif',serif" fill="#000" stroke="#000" stroke-width="1.06" stroke-linejoin="round">m</text><text transform="matrix(0.2944 0 0 0.2604 113.72 -0.06)" font-size="100" style="font-family:'Liberation Serif',serif" fill="#000" stroke="#000" stroke-width="1.08" stroke-linejoin="round">s</text><text transform="matrix(0.1991 0 0 0.1913 14.60 7.41)" font-size="100" style="font-family:'Liberation Serif',serif" fill="#000" stroke="#000" stroke-width="3.59" stroke-linejoin="round">rot</text><path d="M99.3,3.6L112.0,-18.9" stroke="#000" stroke-width="1.5" fill="none"/><path d="M51.70,-19.70V5.10" stroke="#000" stroke-width="2.00" fill="none"/><path d="M50.70,-19.05H55.80 M50.70,4.45H55.80" stroke="#000" stroke-width="1.30" fill="none"/><path d="M132.40,-19.70V4.50" stroke="#000" stroke-width="2.00" fill="none"/><path d="M128.50,-19.05H133.40 M128.50,3.85H133.40" stroke="#000" stroke-width="1.30" fill="none"/></g>
<mask id="mS" maskUnits="userSpaceOnUse" x="0" y="0" width="830" height="830"><g transform="translate(-0.80,0)"><text transform="matrix(0.3953 0 0 0.3539 110.73 99.65)" font-size="100" style="font-family:'Liberation Serif',serif" fill="#fff">S</text></g></mask><g mask="url(#mS)"><g transform="translate(0.80,0)"><text transform="matrix(0.3953 0 0 0.3539 110.73 99.65)" font-size="100" style="font-family:'Liberation Serif',serif" fill="#ff8c28">S</text></g></g>
<mask id="mP" maskUnits="userSpaceOnUse" x="0" y="0" width="830" height="830"><g transform="translate(-0.95,0)"><text transform="matrix(0.4224 0 0 0.3603 132.04 99.60)" font-size="100" style="font-family:'Liberation Serif',serif" fill="#fff">P</text></g></mask><g mask="url(#mP)"><g transform="translate(0.95,0)"><text transform="matrix(0.4224 0 0 0.3603 132.04 99.60)" font-size="100" style="font-family:'Liberation Serif',serif" fill="#ff9030">P</text></g></g>
<mask id="mF" maskUnits="userSpaceOnUse" x="0" y="0" width="830" height="830"><g transform="translate(-0.95,0)"><text transform="matrix(0.3980 0 0 0.3573 111.31 447.20)" font-size="100" style="font-family:'Liberation Serif',serif" fill="#fff">F</text></g></mask><g mask="url(#mF)"><g transform="translate(0.95,0)"><text transform="matrix(0.3980 0 0 0.3573 111.31 447.20)" font-size="100" style="font-family:'Liberation Serif',serif" fill="#40b440">F</text></g></g>
<mask id="mP2" maskUnits="userSpaceOnUse" x="0" y="0" width="830" height="830"><g transform="translate(-0.95,0)"><text transform="matrix(0.4224 0 0 0.3573 132.04 447.20)" font-size="100" style="font-family:'Liberation Serif',serif" fill="#fff">P</text></g></mask><g mask="url(#mP2)"><g transform="translate(0.95,0)"><text transform="matrix(0.4224 0 0 0.3573 132.04 447.20)" font-size="100" style="font-family:'Liberation Serif',serif" fill="#40b440">P</text></g></g>
</svg></body></html>
